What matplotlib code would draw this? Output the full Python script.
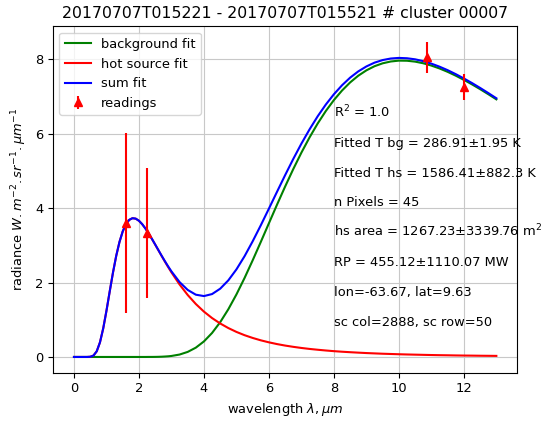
import numpy as np
import matplotlib
matplotlib.use("Agg")
import matplotlib.pyplot as plt

plt.rcParams['font.size'] = 9.4

# wavelength grid (um) and fitted radiances
wavelength = [0.0, 0.2, 0.3, 0.4, 0.5, 0.6, 0.7, 0.8, 0.9, 1.0, 1.1, 1.2, 1.3, 1.4, 1.5,
              1.6, 1.7, 1.8, 1.9, 2.0, 2.1, 2.2, 2.3, 2.4, 2.5, 2.6, 2.7, 2.8, 2.9, 3.0,
              3.25, 3.5, 3.75, 4.0, 4.25, 4.5, 4.75, 5.0, 5.25, 5.5, 5.75, 6.0, 6.25, 6.5,
              6.75, 7.0, 7.25, 7.5, 7.75, 8.0, 8.25, 8.5, 8.75, 9.0, 9.25, 9.5, 9.75, 10.0,
              10.25, 10.5, 10.75, 11.0, 11.25, 11.5, 11.75, 12.0, 12.25, 12.5, 12.75, 13.0]
bg_fit = [0, 0, 0, 0, 0, 0, 0, 0, 0, 0, 0, 0, 0, 0, 0,
          0, 0, 0, 0, 0, 0.000, 0.000, 0.001, 0.001, 0.002, 0.004, 0.007, 0.012, 0.018, 0.027,
          0.065, 0.136, 0.250, 0.418, 0.645, 0.934, 1.281, 1.680, 2.122, 2.597, 3.091, 3.593, 4.093, 4.581,
          5.049, 5.490, 5.898, 6.271, 6.606, 6.902, 7.158, 7.376, 7.556, 7.700, 7.811, 7.889, 7.938, 7.961,
          7.958, 7.934, 7.890, 7.828, 7.751, 7.660, 7.557, 7.444, 7.323, 7.195, 7.060, 6.921]
hs_fit = [0, 0, 0, 0.000, 0.005, 0.038, 0.152, 0.393, 0.768, 1.243, 1.761, 2.266, 2.717, 3.089, 3.373,
          3.568, 3.683, 3.728, 3.716, 3.659, 3.567, 3.450, 3.316, 3.170, 3.018, 2.864, 2.710, 2.559, 2.413, 2.272,
          1.947, 1.665, 1.423, 1.218, 1.045, 0.900, 0.777, 0.673, 0.585, 0.511, 0.447, 0.393, 0.346, 0.306,
          0.272, 0.242, 0.216, 0.194, 0.174, 0.156, 0.141, 0.128, 0.116, 0.105, 0.096, 0.087, 0.080, 0.073,
          0.067, 0.062, 0.057, 0.052, 0.048, 0.045, 0.041, 0.038, 0.036, 0.033, 0.031, 0.029]
sum_fit = np.array(bg_fit) + np.array(hs_fit)

# sensor readings
band_wl = [1.61, 2.25, 10.85, 12.0]
band_rad = [3.6, 3.33, 8.05, 7.25]
band_err = [2.43, 1.75, 0.41, 0.36]

info = ['R$^2$ = 1.0',
        'Fitted T bg = 286.91\u00b11.95 K',
        'Fitted T hs = 1586.41\u00b1882.3 K',
        'n Pixels = 45',
        'hs area = 1267.23\u00b13339.76 m$^2$',
        'RP = 455.12\u00b11110.07 MW',
        'lon=-63.67, lat=9.63',
        'sc col=2888, sc row=50']
info_y = [6.58, 5.74, 4.94, 4.16, 3.38, 2.54, 1.74, 0.93]

fig = plt.figure(figsize=(5.45, 4.21), dpi=100)
ax = fig.add_subplot(111)
fig.subplots_adjust(left=0.097, right=0.9495, top=0.9375, bottom=0.1147)
ax.plot(wavelength, bg_fit, color='g', label='background fit')
ax.plot(wavelength, hs_fit, color='r', label='hot source fit')
ax.plot(wavelength, sum_fit, color='b', label='sum fit')
ax.errorbar(band_wl, band_rad, yerr=band_err, fmt='r^', label='readings')
for t, y in zip(info, info_y):
    ax.text(8.0, y, t, va='center')
ax.set_title('20170707T015221 - 20170707T015521 # cluster 00007', fontsize=11.3)
ax.set_xlabel(r'wavelength $\lambda, \mu m$')
ax.set_ylabel(r'radiance $W.m^{-2}.sr^{-1}.\mu m^{-1}$')
ax.grid(True, color='#c8c8c8', linewidth=0.8)
ax.legend(loc='upper left')
fig.savefig('out.png', dpi=100)
